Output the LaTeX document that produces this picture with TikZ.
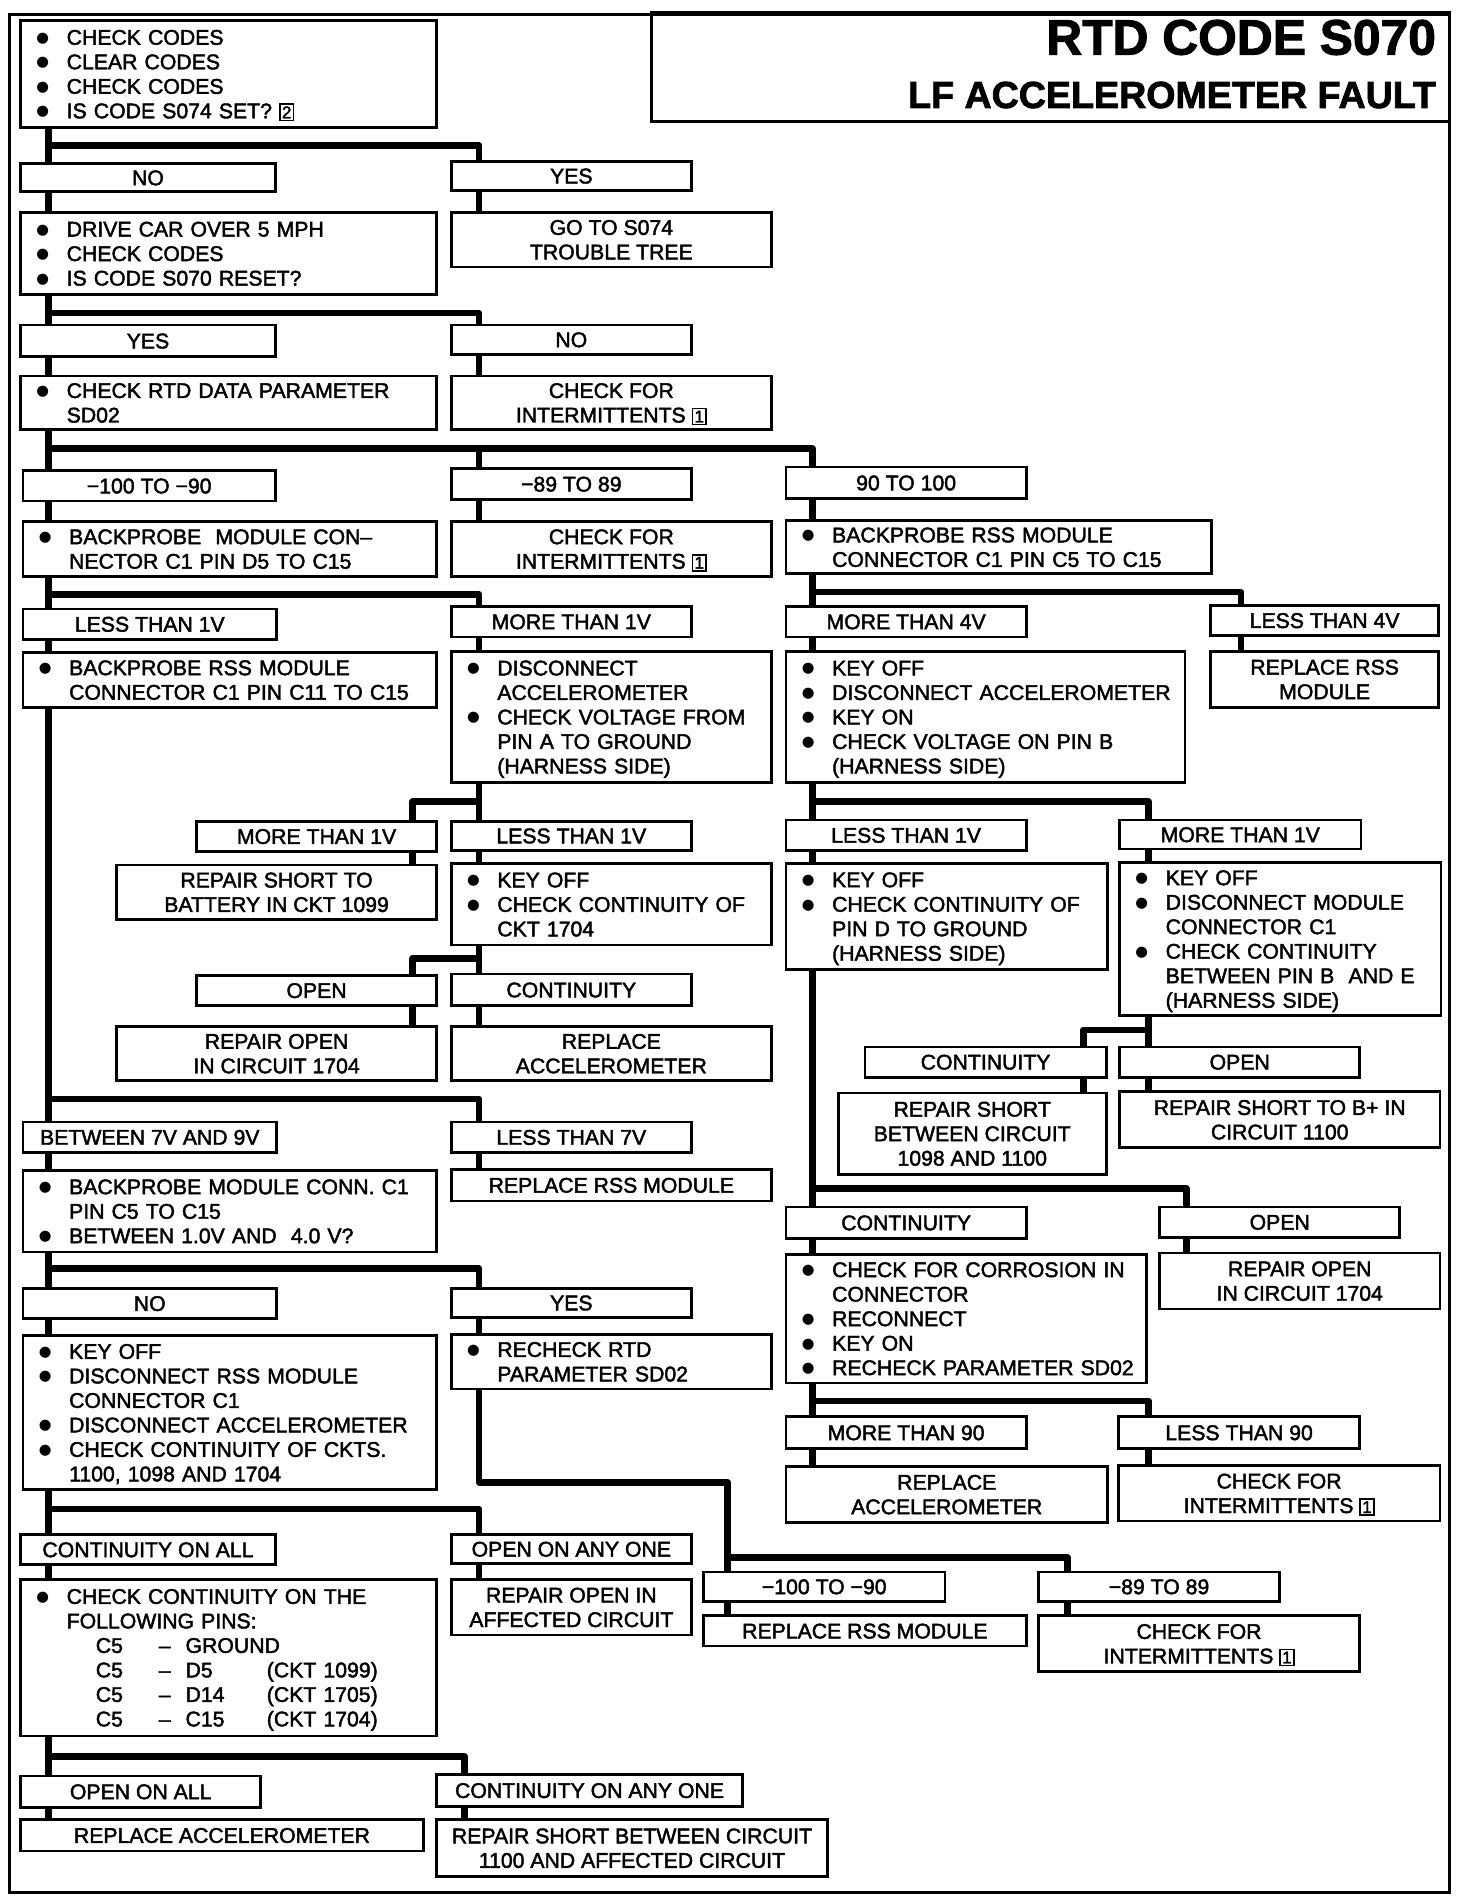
\documentclass[tikz,border=0pt]{standalone}
\usepackage{fontspec}
\setmainfont{Liberation Sans}[FakeBold=2]
\newfontfamily\dejavu{DejaVu Sans}
\newcommand\fs{\fontsize{17.5}{20.2}\selectfont}
\newcommand\sst{\rule[-3.9pt]{0pt}{20.2pt}}
\newcommand\bul{\makebox[25pt][l]{\raisebox{2pt}{\dejavu\fontsize{12}{12}\selectfont ●}}}
\newcommand\bi{\sst\hspace*{12pt}\bul}
\newcommand\ci{\sst\hspace*{37pt}}
\newcommand\pn{\sst\hspace*{61pt}}
\newcommand\bxn[1]{{\setlength\fboxsep{1.2pt}\setlength\fboxrule{1.2pt}\fbox{\fontsize{14}{14}\selectfont #1}}}
\tikzset{
  bx/.style={draw, line width=2.2pt, fill=white, rectangle, inner sep=0pt, outer sep=0pt, font=\fs},
  cb/.style={bx, align=center},
  lb/.style={bx, align=left, inner xsep=0pt},
  conn/.style={line width=5.5pt, line join=round},
}
\newcommand\cbox[6]{%
  \pgfmathsetmacro\bw{#4-#2}\pgfmathsetmacro\bh{#5-#3}%
  \node[cb, anchor=north west, minimum width=\bw pt, minimum height=\bh pt] (#1) at (#2,#3) {#6};}
\newcommand\lbox[6]{%
  \pgfmathsetmacro\bw{#4-#2}\pgfmathsetmacro\bh{#5-#3}\pgfmathsetmacro\tw{#4-#2-2}%
  \node[lb, anchor=north west, minimum width=\bw pt, minimum height=\bh pt, text width=\tw pt] (#1) at (#2,#3) {#6};}
\begin{document}
\begin{tikzpicture}[x=1pt,y=-1pt]
\useasboundingbox (0,0) rectangle (1214,1568);
\fill[white] (0,0) rectangle (1214,1568);
\draw[line width=2pt] (8,12) rectangle (1195,1560);
\node[draw, line width=2.2pt, anchor=north west, minimum width=658pt, minimum height=90pt, inner sep=0pt, outer sep=0pt] (tb) at (537,10) {};
\node[anchor=base east, inner sep=0pt, font=\fontsize{41}{41}\selectfont\bfseries] (t1) at (1184,45) {RTD CODE S070};
\node[anchor=base east, inner sep=0pt, font=\fontsize{31}{31}\selectfont\bfseries] (t2) at (1184,89) {LF ACCELEROMETER FAULT};

\coordinate (xL) at (40,0);
\coordinate (xM) at (395,0);
\coordinate (xR) at (670,0);
\coordinate (xRR) at (947,0);
\coordinate (xA) at (1023,0);
\coordinate (xO) at (978,0);
\coordinate (x89) at (880,0);
\coordinate (x100) at (600,0);
\coordinate (xML) at (340,0);
\coordinate (xC) at (893,0);
\coordinate (xCA) at (383,0);

% boxes
\lbox{q1}{17}{17}{360}{105}{\bi CHECK CODES\\\bi CLEAR CODES\\\bi CHECK CODES\\\bi IS CODE S074 SET? \bxn{2}}
\cbox{n1}{17}{135}{227}{158}{\sst NO}
\cbox{y1}{372}{133}{570}{157}{\sst YES}
\lbox{q2}{17}{175}{360}{243}{\bi DRIVE CAR OVER 5 MPH\\\bi CHECK CODES\\\bi IS CODE S070 RESET?}
\cbox{r1}{372}{175}{636}{220}{\sst GO TO S074\\\sst TROUBLE TREE}
\cbox{y2}{17}{268}{227}{294}{\sst YES}
\cbox{n2}{372}{268}{570}{292}{\sst NO}
\lbox{q3}{17}{310}{360}{354}{\bi CHECK RTD DATA PARAMETER\\\ci SD02}
\cbox{r2}{372}{310}{636}{354}{\sst CHECK FOR\\\sst INTERMITTENTS \bxn{1}}
\cbox{a1}{19}{388}{227}{413}{\sst −100 TO −90}
\cbox{a2}{372}{386}{570}{412}{\sst −89 TO 89}
\cbox{a3}{648}{385}{846}{411}{\sst 90 TO 100}
\lbox{q4}{19}{430}{360}{475}{\bi BACKPROBE~ MODULE CON–\\\ci NECTOR C1 PIN D5 TO C15}
\cbox{r3}{372}{430}{636}{475}{\sst CHECK FOR\\\sst INTERMITTENTS \bxn{1}}
\lbox{q5}{648}{429}{999}{473}{\bi BACKPROBE RSS MODULE\\\ci CONNECTOR C1 PIN C5 TO C15}
\cbox{b1}{19}{502}{228}{527}{\sst LESS THAN 1V}
\cbox{b2}{372}{500}{570}{525}{\sst MORE THAN 1V}
\cbox{b3}{648}{500}{846}{525}{\sst MORE THAN 4V}
\cbox{b4}{998}{499}{1186}{524}{\sst LESS THAN 4V}
\lbox{q6}{19}{538}{360}{583}{\bi BACKPROBE RSS MODULE\\\ci CONNECTOR C1 PIN C11 TO C15}
\lbox{q7}{372}{537}{636}{645}{\bi DISCONNECT\\\ci ACCELEROMETER\\\bi CHECK VOLTAGE FROM\\\ci PIN A TO GROUND\\\ci (HARNESS SIDE)}
\lbox{q8}{648}{537}{977}{645}{\bi KEY OFF\\\bi DISCONNECT ACCELEROMETER\\\bi KEY ON\\\bi CHECK VOLTAGE ON PIN B\\\ci (HARNESS SIDE)}
\cbox{r4}{998}{537}{1186}{583}{\sst REPLACE RSS\\\sst MODULE}
\cbox{c1}{162}{677}{360}{702}{\sst MORE THAN 1V}
\cbox{c2}{372}{677}{570}{701}{\sst LESS THAN 1V}
\cbox{c3}{648}{676}{846}{701}{\sst LESS THAN 1V}
\cbox{c4}{923}{676}{1122}{700}{\sst MORE THAN 1V}
\cbox{r5}{96}{713}{360}{758}{\sst REPAIR SHORT TO\\\sst BATTERY IN CKT 1099}
\lbox{q9}{372}{712}{636}{779}{\bi KEY OFF\\\bi CHECK CONTINUITY OF\\\ci CKT 1704}
\lbox{q10}{648}{712}{913}{799}{\bi KEY OFF\\\bi CHECK CONTINUITY OF\\\ci PIN D TO GROUND\\\ci (HARNESS SIDE)}
\lbox{q11}{923}{711}{1188}{837}{\bi KEY OFF\\\bi DISCONNECT MODULE\\\ci CONNECTOR C1\\\bi CHECK CONTINUITY\\\ci BETWEEN PIN B~ AND E\\\ci (HARNESS SIDE)}
\cbox{d1}{162}{804}{360}{829}{\sst OPEN}
\cbox{d2}{372}{803}{570}{829}{\sst CONTINUITY}
\cbox{r6}{96}{846}{360}{891}{\sst REPAIR OPEN\\\sst IN CIRCUIT 1704}
\cbox{r7}{372}{846}{636}{891}{\sst REPLACE\\\sst ACCELEROMETER}
\cbox{e1}{713}{863}{912}{888}{\sst CONTINUITY}
\cbox{e2}{923}{863}{1121}{888}{\sst OPEN}
\cbox{r8}{691}{901}{912}{968}{\sst REPAIR SHORT\\\sst BETWEEN CIRCUIT\\\sst 1098 AND 1100}
\cbox{r9}{923}{900}{1187}{946}{\sst REPAIR SHORT TO B+ IN\\\sst CIRCUIT 1100}
\cbox{f1}{19}{925}{228}{950}{\sst BETWEEN 7V AND 9V}
\cbox{f2}{372}{925}{570}{950}{\sst LESS THAN 7V}
\lbox{q12}{19}{965}{360}{1032}{\bi BACKPROBE MODULE CONN. C1\\\ci PIN C5 TO C15\\\bi BETWEEN 1.0V AND~ 4.0 V?}
\cbox{r10}{372}{964}{636}{990}{\sst REPLACE RSS MODULE}
\cbox{g1}{648}{995}{846}{1021}{\sst CONTINUITY}
\cbox{g2}{956}{995}{1154}{1020}{\sst OPEN}
\lbox{q13}{648}{1034}{945}{1140}{\bi CHECK FOR CORROSION IN\\\ci CONNECTOR\\\bi RECONNECT\\\bi KEY ON\\\bi RECHECK PARAMETER SD02}
\cbox{r11}{956}{1033}{1187}{1079}{\sst REPAIR OPEN\\\sst IN CIRCUIT 1704}
\cbox{h1}{19}{1062}{228}{1087}{\sst NO}
\cbox{h2}{372}{1062}{570}{1086}{\sst YES}
\lbox{q14}{19}{1101}{360}{1228}{\bi KEY OFF\\\bi DISCONNECT RSS MODULE\\\ci CONNECTOR C1\\\bi DISCONNECT ACCELEROMETER\\\bi CHECK CONTINUITY OF CKTS.\\\ci 1100, 1098 AND 1704}
\lbox{q15}{372}{1100}{636}{1145}{\bi RECHECK RTD\\\ci PARAMETER SD02}
\cbox{i1}{648}{1168}{846}{1194}{\sst MORE THAN 90}
\cbox{i2}{922}{1168}{1121}{1194}{\sst LESS THAN 90}
\cbox{r12}{648}{1209}{913}{1255}{\sst REPLACE\\\sst ACCELEROMETER}
\cbox{r13}{922}{1208}{1187}{1254}{\sst CHECK FOR\\\sst INTERMITTENTS \bxn{1}}
\cbox{j1}{17}{1265}{227}{1290}{\sst CONTINUITY ON ALL}
\cbox{j2}{372}{1265}{570}{1289}{\sst OPEN ON ANY ONE}
\cbox{k1}{580}{1296}{779}{1320}{\sst −100 TO −90}
\cbox{k2}{856}{1296}{1055}{1320}{\sst −89 TO 89}
\lbox{q16}{17}{1302}{360}{1431}{\bi CHECK CONTINUITY ON THE\\\ci FOLLOWING PINS:\\
\pn\makebox[52pt][l]{C5}\makebox[22pt][l]{–}GROUND\\
\pn\makebox[52pt][l]{C5}\makebox[22pt][l]{–}\makebox[67pt][l]{D5}(CKT 1099)\\
\pn\makebox[52pt][l]{C5}\makebox[22pt][l]{–}\makebox[67pt][l]{D14}(CKT 1705)\\
\pn\makebox[52pt][l]{C5}\makebox[22pt][l]{–}\makebox[67pt][l]{C15}(CKT 1704)}
\cbox{r14}{372}{1302}{570}{1348}{\sst REPAIR OPEN IN\\\sst AFFECTED CIRCUIT}
\cbox{r15}{580}{1332}{846}{1357}{\sst REPLACE RSS MODULE}
\cbox{r16}{856}{1332}{1121}{1378}{\sst CHECK FOR\\\sst INTERMITTENTS \bxn{1}}
\cbox{l1}{17}{1464}{215}{1490}{\sst OPEN ON ALL}
\cbox{l2}{360}{1463}{612}{1489}{\sst CONTINUITY ON ANY ONE}
\cbox{r17}{17}{1500}{349}{1526}{\sst REPLACE ACCELEROMETER}
\cbox{r18}{360}{1500}{682}{1547}{\sst REPAIR SHORT BETWEEN CIRCUIT\\\sst 1100 AND AFFECTED CIRCUIT}

% branch connectors
\draw[conn] (q1.south -| xL) -- (n1.north -| xL);
\draw[conn] (q1.south -| xL) -- ++(0,15) -| (y1.north -| xM);
\draw[conn] (q2.south -| xL) -- (y2.north -| xL);
\draw[conn] (q2.south -| xL) -- ++(0,15) -| (n2.north -| xM);
\draw[conn] (q3.south -| xL) -- (a1.north -| xL);
\draw[conn] (q3.south -| xL) -- ++(0,16) -| (a3.north -| xR);
\draw[conn] (a2.north -| xM) -- ++(0,-16);
\draw[conn] (q4.south -| xL) -- (b1.north -| xL);
\draw[conn] (q4.south -| xL) -- ++(0,15) -| (b2.north -| xM);
\draw[conn] (q5.south -| xR) -- (b3.north -| xR);
\draw[conn] (q5.south -| xR) -- ++(0,15) -| (b4.north -| xA);
\draw[conn] (q7.south -| xM) -- (c2.north -| xM);
\draw[conn] (q7.south -| xM) -- ++(0,16) -| (c1.north -| xML);
\draw[conn] (q8.south -| xR) -- (c3.north -| xR);
\draw[conn] (q8.south -| xR) -- ++(0,16) -| (c4.north -| xRR);
\draw[conn] (q9.south -| xM) -- (d2.north -| xM);
\draw[conn] (q9.south -| xM) -- ++(0,11) -| (d1.north -| xML);
\draw[conn] (q11.south -| xRR) -- (e2.north -| xRR);
\draw[conn] (q11.south -| xRR) -- ++(0,12) -| (e1.north -| xC);
\draw[conn] (q6.south -| xL) -- (f1.north -| xL);
\draw[conn] (q6.south -| xL) -- ++(0,323) -| (f2.north -| xM);
\draw[conn] (q10.south -| xR) -- (g1.north -| xR);
\draw[conn] (q10.south -| xR) -- ++(0,181) -| (g2.north -| xO);
\draw[conn] (q12.south -| xL) -- (h1.north -| xL);
\draw[conn] (q12.south -| xL) -- ++(0,14) -| (h2.north -| xM);
\draw[conn] (q13.south -| xR) -- (i1.north -| xR);
\draw[conn] (q13.south -| xR) -- ++(0,15) -| (i2.north -| xRR);
\draw[conn] (q14.south -| xL) -- (j1.north -| xL);
\draw[conn] (q14.south -| xL) -- ++(0,16) -| (j2.north -| xM);
\draw[conn] (q15.south -| xM) -- ++(0,77) -| (k1.north -| x100);
\draw[conn] (k1.north -| x100) -- ++(0,-12) -| (k2.north -| x89);
\draw[conn] (q16.south -| xL) -- (l1.north -| xL);
\draw[conn] (q16.south -| xL) -- ++(0,17) -| (l2.north -| xCA);

% label -> result connectors
\draw[conn] (n1.south -| xL) -- (q2.north -| xL);
\draw[conn] (y1.south -| xM) -- (r1.north -| xM);
\draw[conn] (y2.south -| xL) -- (q3.north -| xL);
\draw[conn] (n2.south -| xM) -- (r2.north -| xM);
\draw[conn] (a1.south -| xL) -- (q4.north -| xL);
\draw[conn] (a2.south -| xM) -- (r3.north -| xM);
\draw[conn] (a3.south -| xR) -- (q5.north -| xR);
\draw[conn] (b1.south -| xL) -- (q6.north -| xL);
\draw[conn] (b2.south -| xM) -- (q7.north -| xM);
\draw[conn] (b3.south -| xR) -- (q8.north -| xR);
\draw[conn] (b4.south -| xA) -- (r4.north -| xA);
\draw[conn] (c1.south -| xML) -- (r5.north -| xML);
\draw[conn] (c2.south -| xM) -- (q9.north -| xM);
\draw[conn] (c3.south -| xR) -- (q10.north -| xR);
\draw[conn] (c4.south -| xRR) -- (q11.north -| xRR);
\draw[conn] (d1.south -| xML) -- (r6.north -| xML);
\draw[conn] (d2.south -| xM) -- (r7.north -| xM);
\draw[conn] (e1.south -| xC) -- (r8.north -| xC);
\draw[conn] (e2.south -| xRR) -- (r9.north -| xRR);
\draw[conn] (f1.south -| xL) -- (q12.north -| xL);
\draw[conn] (f2.south -| xM) -- (r10.north -| xM);
\draw[conn] (g1.south -| xR) -- (q13.north -| xR);
\draw[conn] (g2.south -| xO) -- (r11.north -| xO);
\draw[conn] (h1.south -| xL) -- (q14.north -| xL);
\draw[conn] (h2.south -| xM) -- (q15.north -| xM);
\draw[conn] (i1.south -| xR) -- (r12.north -| xR);
\draw[conn] (i2.south -| xRR) -- (r13.north -| xRR);
\draw[conn] (j1.south -| xL) -- (q16.north -| xL);
\draw[conn] (j2.south -| xM) -- (r14.north -| xM);
\draw[conn] (k1.south -| x100) -- (r15.north -| x100);
\draw[conn] (k2.south -| x89) -- (r16.north -| x89);
\draw[conn] (l1.south -| xL) -- (r17.north -| xL);
\draw[conn] (l2.south -| xCA) -- (r18.north -| xCA);
\end{tikzpicture}
\end{document}
